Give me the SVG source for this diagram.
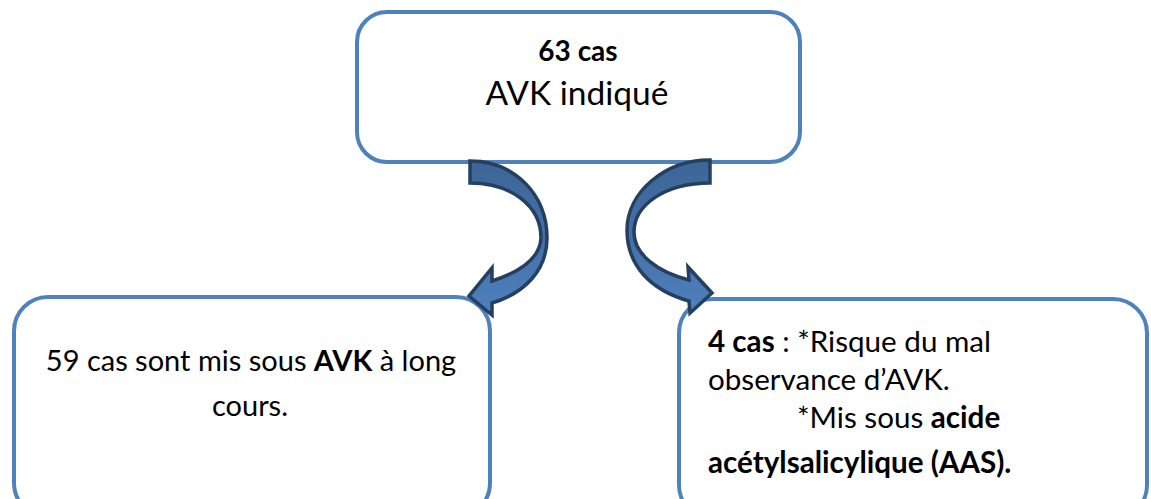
<svg xmlns="http://www.w3.org/2000/svg" width="1151" height="499" viewBox="0 0 1151 499">
  <defs>
    <style>
      .box { fill: #ffffff; stroke: #4f81bd; stroke-width: 4; }
      .arrow { stroke: #243f60; stroke-width: 3.5; stroke-linejoin: miter; }
      .t { font-family: Lato, "Open Sans", "Liberation Sans", sans-serif; fill: #000000; }
      .b { font-weight: bold; }
    </style>
    <linearGradient id="arrowFill" x1="0" y1="0" x2="0" y2="1">
      <stop offset="0" stop-color="#3c6697"/>
      <stop offset="0.5" stop-color="#4470a6"/>
      <stop offset="1" stop-color="#4f81bd"/>
    </linearGradient>
  </defs>

  <!-- top node -->
  <g id="node-avk-indique">
    <rect class="box" x="357" y="12" width="443" height="150" rx="30" ry="30"/>
    <text class="t b" x="578" y="61" font-size="28" text-anchor="middle">63 cas</text>
    <text class="t" x="577" y="105" font-size="33.5" text-anchor="middle">AVK indiqué</text>
  </g>

  <!-- bottom left node -->
  <g id="node-avk-long-cours">
    <rect class="box" x="14" y="297" width="476" height="220" rx="34" ry="34"/>
    <text class="t" x="251" y="371" font-size="29" text-anchor="middle">59 cas sont mis sous <tspan class="b">AVK</tspan> à long</text>
    <text class="t" x="250" y="416" font-size="29" text-anchor="middle">cours.</text>
  </g>

  <!-- bottom right node -->
  <g id="node-aas">
    <rect class="box" x="679" y="299" width="468" height="220" rx="34" ry="34"/>
    <text class="t" x="708" y="352" font-size="29.6"><tspan class="b">4 cas</tspan> : *Risque du mal</text>
    <text class="t" x="708" y="390" font-size="29.6">observance d’AVK.</text>
    <text class="t" x="797" y="428" font-size="29.6">*Mis sous <tspan class="b">acide</tspan></text>
    <text class="t b" x="708" y="473" font-size="29.6">acétylsalicylique (AAS).</text>
  </g>

  <!-- connectors: curved block arrows -->
  <g id="connectors">
    <path id="arrow-left" class="arrow" fill="url(#arrowFill)"
      d="M470,161 C515,161 547,195 547,238 C547,270 525,293 492,303 L492,315 L469,296 L492,268 L492,281 C520,272 540,258 541,238 C541,205 510,183 470,183 Z"/>
    <path id="arrow-right" class="arrow" fill="url(#arrowFill)"
      d="M710,160 C665,160 627,192 627,230 C627,265 650,290 689,301 L690,313 L712,293 L688,267 L689,280 C658,272 634,255 634,232 C634,205 665,183 710,183 Z"/>
  </g>
</svg>
